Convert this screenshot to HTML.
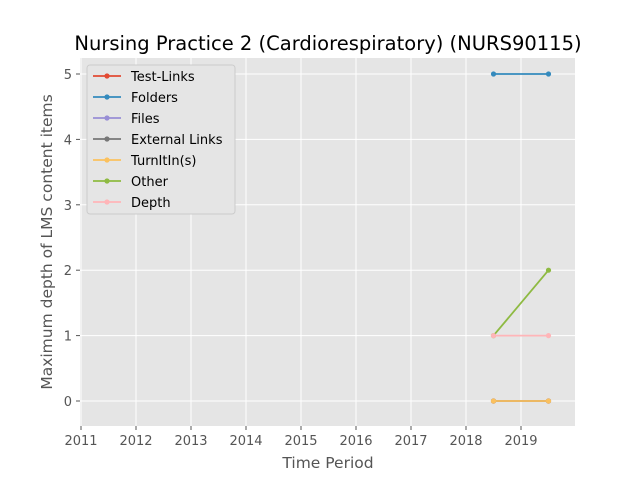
<!DOCTYPE html>
<html><head><meta charset="utf-8"><style>
body{margin:0;background:#fff;}
svg{display:block;font-family:"DejaVu Sans","Liberation Sans",sans-serif;}
</style></head><body>
<svg id="chart" width="640" height="480" viewBox="0 0 640 480">
<rect x="0" y="0" width="640" height="480" fill="#fff"/>
<text x="328" y="50" font-size="19.5" text-anchor="middle" fill="#000">Nursing Practice 2 (Cardiorespiratory) (NURS90115)</text>
<rect x="80" y="58" width="495" height="368" fill="#E5E5E5"/>
<g id="grid"></g><g id="ticks"></g><g id="series"></g>
<text x="328" y="468" font-size="15.5" text-anchor="middle" fill="#555">Time Period</text>
<text transform="translate(52,242) rotate(-90)" font-size="15.5" text-anchor="middle" fill="#555">Maximum depth of LMS content items</text>
<g id="legend"></g>
</svg>
<script>
const categories=[2018.5,2019.5];
const seriesNames=["Test-Links","Folders","Files","External Links","TurnItIn(s)","Other","Depth"];
const seriesColors=["#E24A33","#348ABD","#988ED5","#777777","#FBC15E","#8EBA42","#FFB5B8"];
const testLinks=[0,0];
const folders=[5,5];
const files=[0,0];
const externalLinks=[0,0];
const turnItIn=[0,0];
const other=[1,2];
const depth=[1,1];
const xTicks=[2011,2012,2013,2014,2015,2016,2017,2018,2019];
const yTicks=[0,1,2,3,4,5];
const seriesValues=[testLinks,folders,files,externalLinks,turnItIn,other,depth];
const NS="http://www.w3.org/2000/svg";
const X=v=>81+(v-2011)*55;
const Y=v=>401-v*65.4;
function mk(p,t,a){const e=document.createElementNS(NS,t);for(const k in a)e.setAttribute(k,a[k]);p.appendChild(e);return e;}
const g=document.getElementById('grid'),tk=document.getElementById('ticks'),s=document.getElementById('series'),lg=document.getElementById('legend');
xTicks.forEach(t=>{
 const l=mk(g,'line',{x1:X(t),x2:X(t),y1:58,y2:426,stroke:'#fff','stroke-width':1});
 
 
 mk(tk,'line',{x1:X(t),x2:X(t),y1:426,y2:430,stroke:'#555'});
 const tx=mk(tk,'text',{x:X(t),y:445,'font-size':13,'text-anchor':'middle',fill:'#555'});tx.textContent=t;
 
 
});
yTicks.forEach(t=>{
 const l=mk(g,'line',{x1:80,x2:575,y1:Y(t),y2:Y(t),stroke:'#fff','stroke-width':1});
 
 
 mk(tk,'line',{x1:76,x2:80,y1:Y(t),y2:Y(t),stroke:'#555'});
 const tx=mk(tk,'text',{x:72,y:Y(t)+5,'font-size':13,'text-anchor':'end',fill:'#555'});tx.textContent=t;
 
 
});
seriesValues.forEach((vals,i)=>{
 const gg=mk(s,'g',{});
 
 
 mk(gg,'polyline',{points:vals.map((v,j)=>X(categories[j])+','+Y(v)).join(' '),fill:'none',stroke:seriesColors[i],'stroke-width':1.8});
 vals.forEach((v,j)=>{const c=mk(gg,'circle',{cx:X(categories[j]),cy:Y(v),r:2.6,fill:seriesColors[i]});
  
  });
});
const box=mk(lg,'rect',{x:87,y:65,width:148,height:149,fill:'#E5E5E5',stroke:'#ccc',rx:3});


seriesNames.forEach((n,i)=>{
 const y=76+i*21;
 const e=mk(lg,'g',{});
 
 
 mk(e,'line',{x1:93,x2:121,y1:y,y2:y,stroke:seriesColors[i],'stroke-width':1.8});
 mk(e,'circle',{cx:107,cy:y,r:2.6,fill:seriesColors[i]});
 const t=mk(e,'text',{x:131,y:y+5,'font-size':13,fill:'#000'});t.textContent=n;
});
</script>
</body></html>
